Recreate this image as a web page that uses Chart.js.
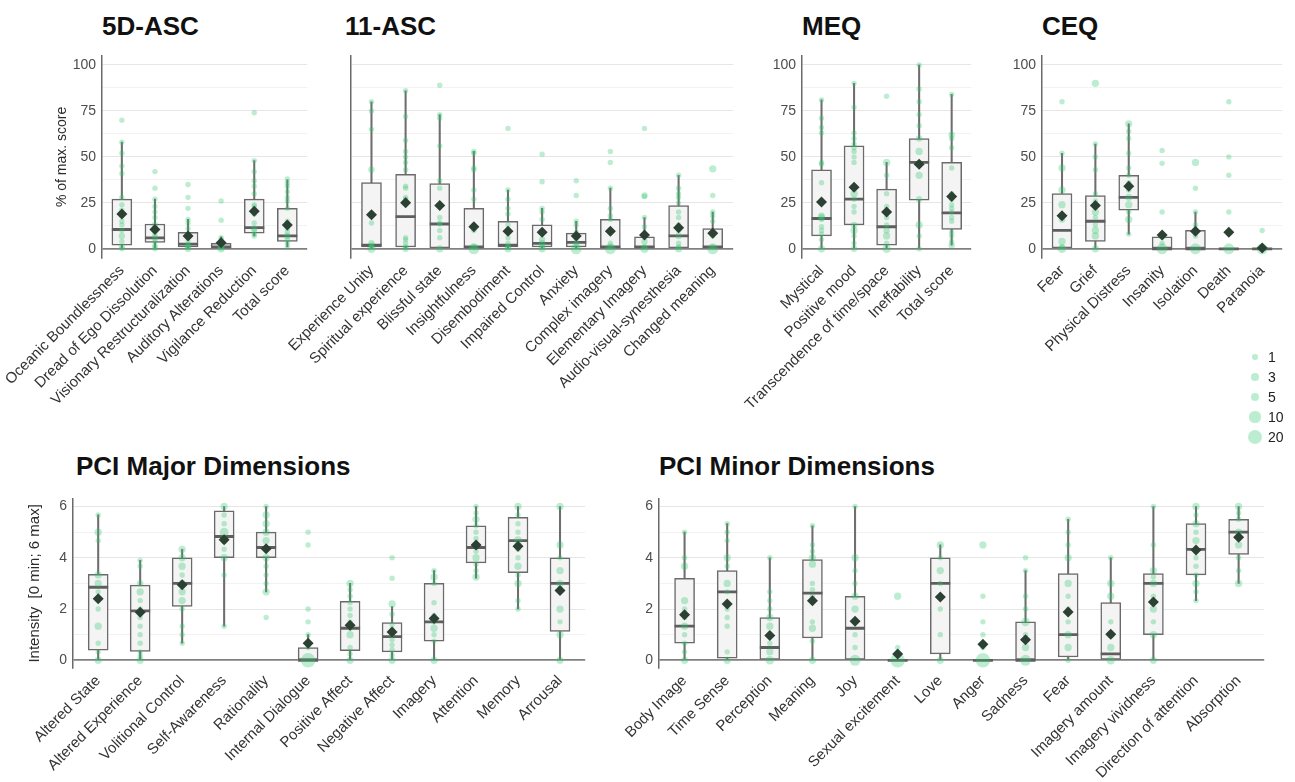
<!DOCTYPE html>
<html>
<head>
<meta charset="utf-8">
<script src="https://cdn.jsdelivr.net/npm/chart.js@4.4.0/dist/chart.umd.min.js"></script>
<style>
  body { margin: 0; width: 1295px; height: 782px; background: #fff; position: relative; overflow: hidden;
         font-family: "Liberation Sans", Arial, sans-serif; }
  canvas { position: absolute; }
  .ttl { position: absolute; font-weight: bold; font-size: 26px; line-height: 26px; color: #111; white-space: nowrap; }
  .lg-dot { position: absolute; border-radius: 50%; background: rgba(46,200,110,0.32); }
  .lg-txt { position: absolute; font-size: 14px; line-height: 14px; color: #222; }
</style>
</head>
<body>
<div class="ttl" style="left:102px;top:13px">5D-ASC</div>
<div class="ttl" style="left:345px;top:13px">11-ASC</div>
<div class="ttl" style="left:802px;top:13px">MEQ</div>
<div class="ttl" style="left:1042px;top:13px">CEQ</div>
<div class="ttl" style="left:76px;top:453px">PCI Major Dimensions</div>
<div class="ttl" style="left:659px;top:453px">PCI Minor Dimensions</div>
<script>
// ---- data ----
const pctTicks = [0, 25, 50, 75, 100];
const pctGrid = [0, 12.5, 25, 37.5, 50, 62.5, 75, 87.5, 100];
const pciTicks = [0, 2, 4, 6];
const pciGrid = [0, 1, 2, 3, 4, 5, 6];
const legendCounts = [1, 3, 5, 10, 20];

// 5D-ASC
const asc5Labels = ['Oceanic Boundlessness', 'Dread of Ego Dissolution', 'Visionary Restructuralization',
  'Auditory Alterations', 'Vigilance Reduction', 'Total score'];
const asc5Q1 = [2, 3.5, 1, 0.5, 8.5, 4];
const asc5Med = [10.5, 6, 2.5, 1, 11.5, 7];
const asc5Q3 = [27, 13.5, 9, 3, 27, 22];
const asc5Lo = [0, 0, 0, 0, 7, 1];
const asc5Hi = [58, 27, 16, 6.5, 48, 37.5];
const asc5Mean = [19, 10.5, 7, 3.3, 20.5, 13];
const asc5Pts = [
  [[70,1],[58,1],[52,1],[45,1],[41,1],[28,1],[24,1],[21,1],[18,1],[15,1],[13,1],[10,1],[7,2],[4,1],[1,2],[0,1]],
  [[42,1],[33,1],[27,1],[23,1],[20,1],[17,1],[13,2],[11,1],[8,1],[6,2],[4,1],[2,1],[1,1],[0,1]],
  [[35,1],[28,1],[22,1],[16,1],[14,1],[11,1],[8,1],[6,1],[4,1],[2,2],[1,2],[0,2]],
  [[26,1],[15.5,1],[6,1],[5,1],[3,2],[2,2],[1,3],[0,3]],
  [[74,1],[48,1],[42,1],[37,1],[34,1],[30,1],[24,1],[23,1],[19,1],[14,1],[11,2],[10,1],[8,1],[7,1]],
  [[38,1],[36,1],[34,1],[31,1],[28,1],[26,1],[22,1],[15,1],[11,1],[9,1],[7,2],[5,1],[3,1],[1,1]]
];

// 11-ASC
const asc11Labels = ['Experience Unity', 'Spiritual experience', 'Blissful state', 'Insightfulness', 'Disembodiment',
  'Impaired Control', 'Anxiety', 'Complex imagery', 'Elementary Imagery', 'Audio-visual-synesthesia', 'Changed meaning'];
const asc11Q1 = [1, 1, 0.5, 0.5, 1, 1, 1, 0.5, 0.5, 0.5, 0.5];
const asc11Med = [2, 17.5, 13.5, 1, 2, 3, 3.5, 1, 1, 7, 1];
const asc11Q3 = [36, 40.5, 35.5, 22, 15, 13, 8.5, 16, 6.5, 23.5, 11];
const asc11Lo = [0, 0, 0, 0, 0, 0, 0, 0, 0, 0, 0];
const asc11Hi = [80, 86, 73, 53, 32, 22, 15, 33, 17, 40, 20];
const asc11Mean = [18.5, 25, 23.5, 12, 9.5, 9, 7, 9.5, 7.5, 11.5, 8.5];
const asc11Pts = [
  [[80,1],[75,1],[65,1],[43,2],[14,1],[3,2],[2,1],[1,1],[0,5]],
  [[86,1],[72,1],[59,1],[53,1],[50,1],[47,1],[43,1],[34,1],[33,1],[28,1],[27,1],[6,1],[5,1],[3,1],[1,1],[0,2]],
  [[89,1],[73,1],[71,1],[56,1],[37,1],[33,1],[17,1],[14,1],[13.5,1],[10,1],[6,1],[0,3]],
  [[53,1],[52,1],[44,1],[43,1],[32,1],[27,1],[10,1],[1,2],[0,10]],
  [[65.5,1],[32,1],[27,1],[22,1],[19,1],[13,1],[10,1],[6,1],[3,1],[1,2],[0,3]],
  [[51.5,1],[36.5,1],[22,1],[20,1],[16,1],[10,1],[5,2],[3,2],[1,2],[0,3]],
  [[37,1],[29,1],[15,1],[13,1],[9,1],[5,1],[3,1],[1,1],[0,10]],
  [[53,1],[47,1],[33,1],[22,1],[18,1],[16,1],[9,1],[3,1],[1,1],[0,10]],
  [[65.5,1],[29,2],[28.5,1],[17,1],[12,1],[4,2],[1,1],[0,5]],
  [[40,1],[33,1],[30,1],[28,1],[25,1],[20,1],[17,1],[13,1],[10,1],[7,2],[3,1],[1,1],[0,3]],
  [[43.5,3],[29,1],[20,1],[18,1],[15,1],[7,1],[1,1],[0,10]]
];

// MEQ
const meqLabels = ['Mystical', 'Positive mood', 'Transcendence of time/space', 'Ineffability', 'Total score'];
const meqQ1 = [7, 13, 2, 26.5, 10.5];
const meqMed = [16.5, 27, 12, 47, 19.5];
const meqQ3 = [43, 56, 32.5, 60, 47];
const meqLo = [0, 0, 0, 0, 2];
const meqHi = [81, 90, 47, 100, 84];
const meqMean = [25.5, 33.5, 20, 46, 28.5];
const meqPts = [
  [[81,1],[71,1],[66,1],[63,1],[47,1],[46,1],[36,1],[18,2],[17,3],[16,1],[12,1],[10,1],[8,1],[5,1],[0,3]],
  [[90,1],[77,1],[63,1],[60,1],[57,1],[55,1],[53,1],[50,1],[47,1],[30,3],[27,1],[23,1],[20,1],[13,2],[10,3],[7,1],[3,1],[0,2]],
  [[83,1],[47,3],[40,1],[30,1],[23,1],[20,1],[17,1],[13,1],[10,2],[7,3],[3,1],[0,5]],
  [[100,1],[87,1],[80,1],[73,1],[67,1],[60,2],[53,3],[47,1],[40,3],[27,2],[13,3],[7,1],[0,1]],
  [[84,1],[62,2],[60,1],[55,1],[44,1],[30,1],[27,1],[24,1],[22,1],[20,1],[17,1],[15,1],[9,1],[7,1],[4,1],[2,2]]
];

// CEQ
const ceqLabels = ['Fear', 'Grief', 'Physical Distress', 'Insanity', 'Isolation', 'Death', 'Paranoia'];
const ceqQ1 = [0, 4, 21, 0, 0, 0, 0];
const ceqMed = [10, 15, 28, 0, 0, 0, 0];
const ceqQ3 = [30, 29, 40, 6.5, 10, 0, 0];
const ceqLo = [0, 0, 8, 0, 0, 0, 0];
const ceqHi = [52, 57, 68, 6.5, 20, 0, 0];
const ceqMean = [18, 23.5, 34, 7.5, 9.5, 9, 0.5];
const ceqPts = [
  [[80,1],[52,1],[44,3],[32,3],[24,3],[16,2],[4,3],[1,1],[0,5]],
  [[90,3],[57,1],[50,1],[43,1],[30,1],[26,1],[23,1],[20,3],[17,1],[13,1],[10,3],[7,3],[0,3]],
  [[68,3],[64,1],[60,1],[52,1],[44,1],[40,1],[36,1],[32,1],[28,3],[24,3],[20,1],[16,3],[8,1]],
  [[53.5,1],[46.5,1],[20,1],[7,3],[3,1],[0,10]],
  [[47,3],[33,1],[20,1],[13,1],[10,1],[7,1],[0,10]],
  [[80,1],[50,1],[40,1],[20,1],[0,10]],
  [[10,1],[0,10]]
];

// PCI major
const majLabels = ['Altered State', 'Altered Experience', 'Volitional Control', 'Self-Awareness', 'Rationality',
  'Internal Dialogue', 'Positive Affect', 'Negative Affect', 'Imagery', 'Attention', 'Memory', 'Arrousal'];
const majQ1 = [0.4, 0.35, 2.1, 4, 4, 0, 0.38, 0.33, 0.75, 3.8, 3.42, 1.13];
const majMed = [2.85, 1.93, 3, 4.83, 4.4, 0, 1.25, 0.92, 1.5, 4.4, 4.67, 3];
const majQ3 = [3.35, 2.93, 4, 5.83, 5, 0.5, 2.3, 1.47, 3, 5.25, 5.58, 4];
const majLo = [0, 0, 0.67, 1.33, 2.67, 0, 0, 0, 0, 3.2, 2, 0];
const majHi = [5.67, 3.9, 4.33, 6, 6, 1, 3, 2.1, 3.5, 6, 6, 6];
const majMean = [2.4, 1.87, 2.95, 4.7, 4.35, 0.67, 1.37, 1.1, 1.63, 4.5, 4.45, 2.72];
const majPts = [
  [[5.67,1],[5,3],[4.67,1],[3.33,3],[3,3],[2.67,1],[2,1],[1.33,3],[0.67,1],[0.33,1],[0,3]],
  [[3.9,1],[3.67,1],[3,2],[2.67,3],[2.33,1],[2,1],[1.67,1],[1.33,1],[1,1],[0.67,1],[0.33,1],[0.17,1],[0,3]],
  [[4.33,3],[4,3],[3.67,3],[3.33,1],[3,3],[2.67,3],[2.33,3],[2,1],[1.33,1],[1,1],[0.67,1]],
  [[6,3],[5.67,1],[5.33,1],[5,5],[4.67,3],[4.33,1],[4,3],[3.33,1],[1.33,1]],
  [[6,1],[5.67,3],[5.33,3],[5,3],[4.67,3],[4.33,1],[4,3],[3.67,1],[3.33,1],[3,1],[2.67,3],[1.67,1]],
  [[5,1],[4.5,1],[2,1],[1.5,1],[1,1],[0.5,1],[0,20]],
  [[3,3],[2.75,1],[2.5,1],[2.25,1],[2,1],[1.75,1],[1.5,1],[1.25,1],[1,3],[0.5,1],[0.25,1],[0,3]],
  [[4,1],[3.2,1],[2.2,3],[1.8,1],[1.4,1],[1.2,1],[1,1],[0.8,1],[0.6,1],[0.4,1],[0.2,1],[0,3]],
  [[3.5,1],[3.25,3],[3,1],[2.25,1],[1.75,1],[1.5,1],[1.25,3],[1,1],[0.75,1],[0,3]],
  [[6,1],[5.75,1],[5.5,3],[5.25,1],[5,1],[4.75,1],[4.5,1],[4.25,1],[4,3],[3.75,1],[3.5,1],[3.25,3]],
  [[6,3],[5.67,1],[5.33,1],[5,1],[4.67,5],[4.33,1],[4,1],[3.67,3],[3.33,1],[3,3],[2.33,1],[2,1]],
  [[6,3],[4.5,3],[4,1],[3.5,3],[3,3],[2,3],[1.5,1],[1,3],[0,3]]
];

// PCI minor
const minLabels = ['Body Image', 'Time Sense', 'Perception', 'Meaning', 'Joy', 'Sexual excitement', 'Love', 'Anger',
  'Sadness', 'Fear', 'Imagery amount', 'Imagery vividness', 'Direction of attention', 'Absorption'];
const minQ1 = [0.67, 0.08, 0, 0.87, 0, 0, 0.25, 0, 0, 0.13, 0, 1, 3.33, 4.13];
const minMed = [1.33, 2.67, 0.5, 2.62, 1.25, 0, 3, 0, 0, 1, 0.25, 3, 4.33, 5];
const minQ3 = [3.2, 3.5, 1.67, 3.93, 2.5, 0, 4, 0, 1.5, 3.38, 2.25, 3.38, 5.33, 5.5];
const minLo = [0, 0, 0, 0, 0, 0, 0, 0, 0, 0, 0, 0, 2.33, 3];
const minHi = [5, 5.33, 4, 5.25, 6, 0, 4.5, 0, 3.5, 5.5, 4, 6, 6, 6];
const minMean = [1.78, 2.2, 0.97, 2.32, 1.52, 0.25, 2.47, 0.63, 0.8, 1.88, 1.02, 2.27, 4.3, 4.8];
const minPts = [
  [[5,1],[4,1],[3.67,3],[2.33,3],[2,1],[1.67,1],[1.33,3],[1,1],[0.67,1],[0.33,1],[0,3]],
  [[5.33,1],[5,1],[4.67,1],[4,3],[3.67,1],[3,3],[2.67,1],[2,1],[1.67,1],[1.33,1],[0.33,1],[0,3]],
  [[4,1],[2.67,1],[2.33,1],[2,1],[1.67,3],[1.33,3],[1,1],[0.67,1],[0.33,3],[0,5]],
  [[5.25,1],[4.5,1],[4.25,1],[4,3],[3.75,3],[3,1],[2.75,1],[2.5,1],[1.5,1],[1.25,3],[0.75,1],[0,3]],
  [[6,1],[4,3],[3.5,1],[3,1],[2.5,3],[2,3],[1.5,1],[1,1],[0.5,1],[0,10]],
  [[2.5,3],[0.5,1],[0,20]],
  [[4.5,3],[4,1],[3.5,3],[3,1],[2,1],[1,1],[0,3]],
  [[4.5,3],[2.5,1],[1.5,1],[1,1],[0.5,1],[0,20]],
  [[4,1],[3.5,1],[2.5,1],[2,1],[1.5,5],[1,1],[0.5,3],[0,10]],
  [[5.5,1],[5,1],[4.5,1],[4,3],[3,3],[2.5,1],[2,1],[1.5,1],[1,3],[0.5,3],[0,1]],
  [[4,1],[3,3],[2.5,3],[1.5,1],[1,3],[0.5,3],[0,5]],
  [[6,1],[4.5,1],[3.5,3],[3.25,1],[3,3],[2.5,1],[2,3],[1.5,1],[1,3],[0,3]],
  [[6,3],[5.67,1],[5.33,3],[5,1],[4.67,3],[4.33,1],[4,1],[3.67,1],[3.33,1],[3,3],[2.67,1],[2.33,1]],
  [[6,3],[5.75,1],[5.5,1],[5,3],[4.75,1],[4.5,3],[4,1],[3.5,1],[3,3]]
];

// ---- drawing ----
const FONT = "'Liberation Sans', Arial, sans-serif";
const PT_COLOR = 'rgba(46,200,110,0.32)';
const rad = n => 1.3 * Math.sqrt(n) + 1.4;

function addPanel(p) {
  const W = p.yw + (p.right - p.left);
  const H = p.plotH + p.xh;
  const cv = document.createElement('canvas');
  cv.width = W;
  cv.height = H;
  cv.style.left = (p.left - p.yw) + 'px';
  cv.style.top = p.top + 'px';
  document.body.appendChild(cv);

  const idx = p.labels.map((_, i) => i);
  const bubbles = [];
  p.pts.forEach((list, i) => list.forEach(([v, c]) => bubbles.push({ x: i, y: v, r: rad(c) })));

  new Chart(cv, {
    type: 'bar',
    data: {
      datasets: [
        // whiskers, box, median, observations, mean
        { type: 'bar', data: idx.map(i => ({ x: i, y: [p.lo[i], p.hi[i]] })),
          backgroundColor: '#6e6e6e', barThickness: 1.4, grouped: false, order: 5 },
        { type: 'bar', data: idx.map(i => ({ x: i, y: [p.q1[i], p.q3[i]] })),
          backgroundColor: '#f4f4f4', borderColor: '#6a6a6a', borderWidth: 1.5, borderSkipped: false,
          barThickness: 20, grouped: false, order: 4 },
        { type: 'scatter', data: idx.map(i => ({ x: i, y: p.med[i] })),
          pointStyle: 'line', pointRadius: 10, pointBorderColor: '#5e5e5e', pointBorderWidth: 2.8, order: 3 },
        { type: 'bubble', data: bubbles, backgroundColor: PT_COLOR, borderWidth: 0, order: 2 },
        { type: 'scatter', data: idx.map(i => ({ x: i, y: p.mean[i] })),
          pointStyle: 'rectRot', pointRadius: 5.5, pointBackgroundColor: '#2c4034',
          pointBorderColor: '#2c4034', pointBorderWidth: 0, order: 1 }
      ]
    },
    options: {
      responsive: false,
      animation: false,
      events: [],
      layout: { padding: 0 },
      plugins: { legend: { display: false }, tooltip: { enabled: false } },
      scales: {
        x: {
          type: 'linear', min: -0.6, max: p.labels.length - 0.4, offset: false,
          grid: { display: false, drawTicks: false },
          border: { display: false },
          afterBuildTicks: s => { s.ticks = idx.map(v => ({ value: v })); },
          afterFit: s => { s.height = p.xh; s.paddingLeft = 0; s.paddingRight = 0; },
          ticks: { autoSkip: false, maxRotation: 45, minRotation: 45, padding: 4, color: '#333',
                   font: { size: 15, family: FONT }, callback: v => p.labels[v] }
        },
        y: {
          type: 'linear', min: p.yMin, max: p.yMax,
          afterBuildTicks: s => { s.ticks = p.grid.map(v => ({ value: v })); },
          afterFit: s => { s.width = p.yw; s.paddingTop = 0; s.paddingBottom = 0; },
          grid: {
            drawTicks: false,
            color: c => c.tick.value === 0 ? '#808080' : (p.yTicks.includes(c.tick.value) ? '#e6e6e6' : '#f2f2f2'),
            lineWidth: c => c.tick.value === 0 ? 1.8 : 1
          },
          border: { display: true, color: '#6a6a6a', width: 1.5 },
          ticks: { display: p.showTicks, padding: 6, color: '#4d4d4d', font: { size: 14, family: FONT },
                   callback: v => p.yTicks.includes(v) ? String(v) : '' },
          title: { display: !!p.yTitle, text: p.yTitle, color: '#2b2b2b', font: { size: p.yTitleSize || 14, family: FONT },
                   padding: { top: p.titlePad || 0, bottom: 0 } }
        }
      }
    }
  });
}

const topRow = { top: 43, plotH: 215.5, xh: 210, yMin: -5, yMax: 105, yTicks: pctTicks, grid: pctGrid };
const botRow = { top: 485.7, plotH: 182.6, xh: 114, yMin: -0.3, yMax: 6.3, yTicks: pciTicks, grid: pciGrid };

addPanel({ ...topRow, left: 102, right: 320, yw: 102, showTicks: true, yTitle: '% of max. score', titlePad: 54, yTitleSize: 14,
  labels: asc5Labels, q1: asc5Q1, med: asc5Med, q3: asc5Q3, lo: asc5Lo, hi: asc5Hi, mean: asc5Mean, pts: asc5Pts });
addPanel({ ...topRow, left: 351, right: 746, yw: 90, showTicks: false,
  labels: asc11Labels, q1: asc11Q1, med: asc11Med, q3: asc11Q3, lo: asc11Lo, hi: asc11Hi, mean: asc11Mean, pts: asc11Pts });
addPanel({ ...topRow, left: 802, right: 984, yw: 85, showTicks: true,
  labels: meqLabels, q1: meqQ1, med: meqMed, q3: meqQ3, lo: meqLo, hi: meqHi, mean: meqMean, pts: meqPts });
addPanel({ ...topRow, left: 1042, right: 1295, yw: 47, showTicks: true,
  labels: ceqLabels, q1: ceqQ1, med: ceqMed, q3: ceqQ3, lo: ceqLo, hi: ceqHi, mean: ceqMean, pts: ceqPts });
addPanel({ ...botRow, left: 73, right: 598, yw: 58, showTicks: true, yTitle: 'Intensity  [0 min; 6 max]', titlePad: 11, yTitleSize: 15,
  labels: majLabels, q1: majQ1, med: majMed, q3: majQ3, lo: majLo, hi: majHi, mean: majMean, pts: majPts });
addPanel({ ...botRow, left: 659, right: 1277, yw: 50, showTicks: true,
  labels: minLabels, q1: minQ1, med: minMed, q3: minQ3, lo: minLo, hi: minHi, mean: minMean, pts: minPts });

// size legend
legendCounts.forEach((n, i) => {
  const cy = 357 + i * 20, r = rad(n);
  const d = document.createElement('div');
  d.className = 'lg-dot';
  d.style.cssText = `left:${1255 - r}px;top:${cy - r}px;width:${2 * r}px;height:${2 * r}px`;
  document.body.appendChild(d);
  const t = document.createElement('div');
  t.className = 'lg-txt';
  t.style.cssText = `left:1268px;top:${cy - 7}px`;
  t.textContent = String(n);
  document.body.appendChild(t);
});
</script>
</body>
</html>
